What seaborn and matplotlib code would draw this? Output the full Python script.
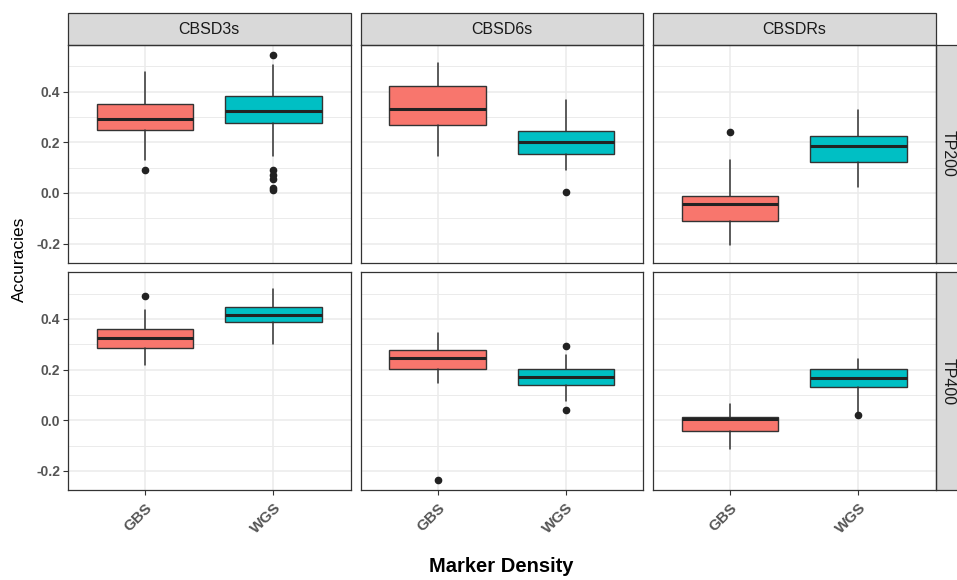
import numpy as np
import pandas as pd
import matplotlib
matplotlib.use("Agg")
import matplotlib.pyplot as plt
from matplotlib.patches import Rectangle
import seaborn as sns

# ---- data ----
traits = ["CBSD3s", "CBSD6s", "CBSDRs"]
pops = ["TP200", "TP400"]
densities = ["GBS", "WGS"]

# order: TP200 x (CBSD3s GBS, CBSD3s WGS, CBSD6s GBS, CBSD6s WGS, CBSDRs GBS, CBSDRs WGS), then TP400 same
whislo = [0.131, 0.144, 0.147, 0.092, -0.207, 0.024,
          0.218, 0.302, 0.146, 0.076, -0.114, 0.033]
q1 = [0.248, 0.278, 0.268, 0.152, -0.112, 0.124,
      0.285, 0.390, 0.201, 0.140, -0.043, 0.131]
med = [0.292, 0.324, 0.331, 0.203, -0.045, 0.184,
       0.324, 0.416, 0.245, 0.172, 0.006, 0.167]
q3 = [0.352, 0.383, 0.421, 0.246, -0.011, 0.226,
      0.362, 0.448, 0.276, 0.201, 0.012, 0.201]
whishi = [0.476, 0.505, 0.512, 0.365, 0.131, 0.328,
          0.434, 0.518, 0.345, 0.257, 0.064, 0.243]
fliers = [[0.089], [0.543, 0.092, 0.072, 0.055, 0.020, 0.013], [], [0.004], [0.241], [],
          [0.490], [], [-0.236], [0.295, 0.042], [], [0.022]]

yticks = [-0.2, 0.0, 0.2, 0.4]
yminor = [-0.1, 0.1, 0.3, 0.5]
ytick_labels = ["-0.2", "0.0", "0.2", "0.4"]

rows = []
k = 0
for p in pops:
    for t in traits:
        for d in densities:
            rows.append(dict(pop=p, trait=t, density=d, whislo=whislo[k], q1=q1[k],
                             med=med[k], q3=q3[k], whishi=whishi[k], fliers=fliers[k]))
            k += 1
df = pd.DataFrame(rows)

palette = {"GBS": "#F8766D", "WGS": "#00BFC4"}
EDGE = "#333333"

sns.set_style("white")
plt.rcParams["font.family"] = ["Liberation Sans", "DejaVu Sans"]

W, H = 957, 580


def draw_boxes(data, **kws):
    ax = plt.gca()
    stats, positions, colors = [], [], []
    for _, r in data.iterrows():
        stats.append(dict(whislo=r.whislo, q1=r.q1, med=r.med, q3=r.q3,
                          whishi=r.whishi, fliers=list(r.fliers), label=r.density))
        positions.append(densities.index(r.density) + 1)
        colors.append(palette[r.density])
    bp = ax.bxp(stats, positions=positions, widths=0.75, patch_artist=True,
                showcaps=False, manage_ticks=False,
                boxprops=dict(edgecolor=EDGE, linewidth=1.0),
                medianprops=dict(color="#222222", linewidth=2.2),
                whiskerprops=dict(color=EDGE, linewidth=1.1),
                flierprops=dict(marker="o", markerfacecolor="#222222",
                                markeredgecolor="#222222", markersize=4.5))
    for patch, c in zip(bp["boxes"], colors):
        patch.set_facecolor(c)


g = sns.FacetGrid(df, row="pop", col="trait", row_order=pops, col_order=traits,
                  sharex=True, sharey=True, despine=False, height=2.5, aspect=1.3)
g.map_dataframe(draw_boxes)
g.set_axis_labels("", "")

fig = g.figure
fig.set_size_inches(W / 100, H / 100)
fig.set_dpi(100)

left, right, top, bottom = 68, 935.5, 45, 490
pw = (right - left - 2 * 10) / 3
ph = (bottom - top - 9.7) / 2
fig.subplots_adjust(left=left / W, right=right / W, top=1 - top / H, bottom=1 - bottom / H,
                    wspace=10 / pw, hspace=9.7 / ph)

for i, p in enumerate(pops):
    for j, t in enumerate(traits):
        ax = g.axes[i, j]
        ax.set_title("")
        ax.set_xlim(0.4, 2.6)
        ax.set_ylim(-0.275, 0.584)
        ax.set_xticks([1, 2])
        ax.set_yticks(yticks)
        ax.set_yticks(yminor, minor=True)
        ax.set_axisbelow(True)
        ax.grid(which="major", color="#ebebeb", linewidth=1.1)
        ax.grid(which="minor", axis="y", color="#ebebeb", linewidth=0.7)
        ax.tick_params(which="minor", length=0)
        ax.tick_params(which="major", length=3.5, width=0.8, color=EDGE, direction="out",
                       left=(j == 0), bottom=(i == 1), pad=2)
        for s in ax.spines.values():
            s.set_color(EDGE)
            s.set_linewidth(0.9)
        if j == 0:
            ax.set_yticklabels(ytick_labels, fontsize=10, fontweight="bold", color="#555555")
        if i == 1:
            ax.set_xticklabels(densities, rotation=45, ha="right", va="top",
                               rotation_mode="anchor", fontsize=11, fontweight="bold",
                               color="#555555")
            ax.tick_params(axis="x", pad=4)
        # top strips
        if i == 0:
            hs = 32 / ph
            ax.add_patch(Rectangle((0, 1), 1, hs, transform=ax.transAxes, clip_on=False,
                                   facecolor="#d9d9d9", edgecolor=EDGE, linewidth=0.9))
            ax.text(0.5, 1 + hs / 2, t, transform=ax.transAxes, ha="center", va="center",
                    fontsize=11.5, color="#1a1a1a")
        # right strips
        if j == 2:
            ws = 32 / pw
            ax.add_patch(Rectangle((1, 0), ws, 1, transform=ax.transAxes, clip_on=False,
                                   facecolor="#d9d9d9", edgecolor=EDGE, linewidth=0.9))
            ax.text(1 + 12.5 / pw, 0.5, p, transform=ax.transAxes, ha="center", va="center",
                    rotation=-90, fontsize=11.5, color="#1a1a1a")

fig.text(19 / W, 1 - 259 / H, "Accuracies", rotation=90, ha="center", va="center",
         fontsize=12.5, color="black")
fig.text(501.5 / W, 1 - 566 / H, "Marker Density", ha="center", va="center",
         fontsize=14.5, fontweight="bold", color="black")

fig.savefig("out.png", dpi=100)
